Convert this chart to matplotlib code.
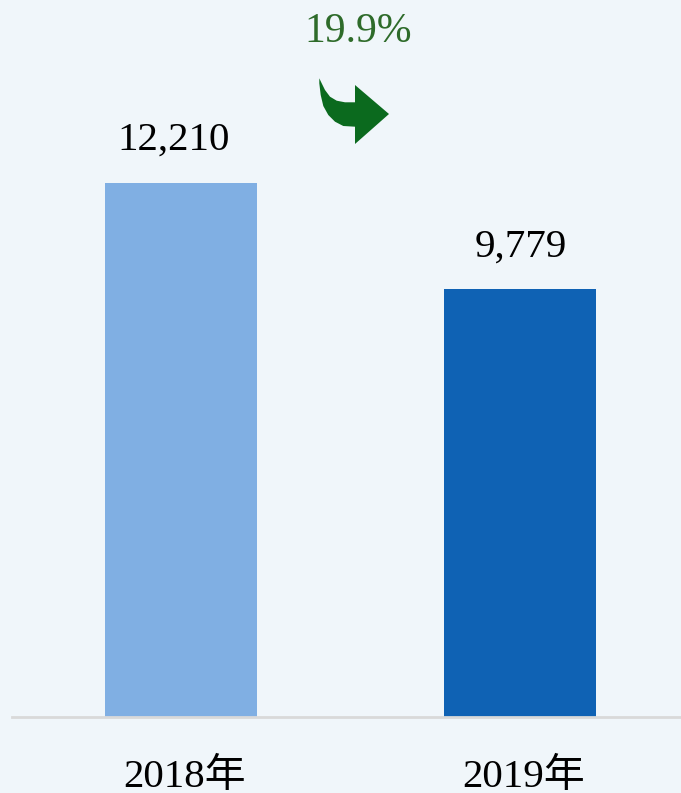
import matplotlib.pyplot as plt
from matplotlib.path import Path
from matplotlib.patches import PathPatch

years = ['2018年', '2019年']
values = [12210, 9779]
value_labels = ['12,210', '9,779']
change_label = '19.9%'
colors = ['#80AFE3', '#0F62B4']

W, H = 681, 793
fig = plt.figure(figsize=(W / 100, H / 100), dpi=100)
fig.patch.set_facecolor('#F0F6FA')

# axes: baseline at y=717 px from top, left edge x=12
ax = fig.add_axes([12 / W, (H - 717) / H, (W - 12) / W, 717 / H])
ax.set_facecolor('none')
x = list(range(len(values)))
ax.bar(x, values, width=0.448, color=colors, zorder=2)
ax.set_xlim(-0.4985, 1.475)
ax.set_ylim(0, values[0] * 717 / 534)

for s in ['top', 'left', 'right']:
    ax.spines[s].set_visible(False)
ax.spines['bottom'].set_color('#D9D9D9')
ax.spines['bottom'].set_linewidth(2)
ax.set_xticks([])
ax.set_yticks([])

serif = ['Liberation Serif', 'Noto Sans CJK SC']
for xi, v, lab, dx in zip(x, values, value_labels, [-7, 1]):
    ax.annotate(lab, (xi, v), xytext=(dx, 33), textcoords='offset pixels',
                ha='center', va='baseline', fontsize=29.5, family=serif)

for xi, yr in zip(x, years):
    ax.annotate(yr, (xi, 0), xycoords=('data', 'axes fraction'),
                xytext=(4, -60), textcoords='offset pixels',
                ha='center', va='center', fontsize=29.5, family=serif)

fig.text(358 / W, 1 - 32 / H, change_label, ha='center', va='center',
         fontsize=30, color='#2E6B2A', family=serif)

# curved arrow, pixel coords from top-left
pts = [(319.3, 78.3), (321.7, 83.3), (325, 90), (330, 96.7), (336.7, 100.7),
       (345, 102.3), (355, 102.3), (355, 85), (389, 114), (355, 144),
       (355, 126.7), (343.3, 126), (335, 121.7), (328.3, 115), (323.3, 106),
       (320.7, 95), (319.3, 83.3)]
verts = [(px / W, 1 - py / H) for px, py in pts]
verts.append(verts[0])
codes = [Path.MOVETO] + [Path.LINETO] * (len(pts) - 1) + [Path.CLOSEPOLY]
fig.patches.append(PathPatch(Path(verts, codes), transform=fig.transFigure,
                             facecolor='#0B6A1E', edgecolor='none'))

plt.savefig('out.png', dpi=100, facecolor=fig.get_facecolor())
